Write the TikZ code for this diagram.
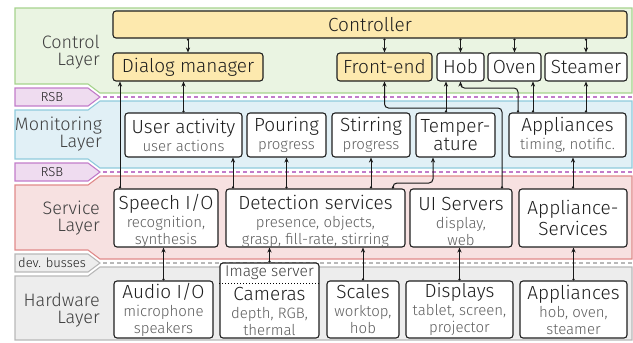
\documentclass[tikz,border=0pt]{standalone}
\usepackage{fontspec}
\IfFontExistsTF{Fira Sans Light}{\setmainfont{Fira Sans Light}}{\setmainfont{Fira Sans}}
\usetikzlibrary{arrows.meta}
\definecolor{gfill}{HTML}{EAF4E2}\definecolor{gline}{HTML}{A6D38D}
\definecolor{bfill}{HTML}{E1F0F6}\definecolor{bline}{HTML}{8FCBDC}
\definecolor{rfill}{HTML}{F7E1E1}\definecolor{rline}{HTML}{E08A8A}
\definecolor{hfill}{HTML}{EDEDED}\definecolor{hline}{HTML}{B8B8B8}
\definecolor{pfill}{HTML}{EFDCF0}\definecolor{pline}{HTML}{C27CCA}
\definecolor{ylw}{HTML}{FDE9AE}
\definecolor{txt}{HTML}{1E1E1E}\definecolor{subc}{HTML}{5E5E5E}
\newcommand\mainf{\fontsize{19}{17}\selectfont}
\newcommand\subf{\color{subc}\fontsize{15}{16}\selectfont}
\newcommand\layf{\fontsize{18}{17}\selectfont}
\newcommand\tagf{\fontsize{13}{14}\selectfont}
\begin{document}
\begin{tikzpicture}[x=1pt,y=-1pt,
  bandst/.style={line width=1.1pt},
  box/.style={draw=black!88, line width=1.1pt, rounded corners=3pt, fill=white, align=center, inner sep=0pt, font=\mainf, text=txt},
  ybox/.style={box, fill=ylw},
  boxtext/.style={inner sep=0pt, align=center, font=\mainf, text=txt},
  conn/.style={line width=1pt, draw=black!90, {Circle[open,fill=white,length=2.2pt,width=2.2pt]}-{Stealth[length=5pt,width=4.2pt]}, rounded corners=4pt},
  layl/.style={anchor=east, align=right, font=\layf, text=txt!85, inner sep=0pt},
  tagl/.style={font=\tagf, text=txt, inner sep=0pt},
  bus/.style={line width=1.1pt, dash pattern=on 4pt off 3pt}
]
\useasboundingbox (0,0) rectangle (633,343);
% bands
\filldraw[bandst, fill=gfill, draw=gline] (15,8) -- (632,8) -- (632,93) -- (100,93) -- (88,84) -- (15,84) -- cycle;
\filldraw[bandst, fill=bfill, draw=bline] (15,110) -- (88,110) -- (100,101) -- (632,101) -- (632,168) -- (100,168) -- (88,159) -- (15,159) -- cycle;
\filldraw[bandst, fill=rfill, draw=rline] (15,185) -- (88,185) -- (100,176) -- (632,176) -- (632,259) -- (100,259) -- (88,250) -- (15,250) -- cycle;
\filldraw[bandst, fill=hfill, draw=hline] (15,276) -- (88,276) -- (100,267) -- (632,267) -- (632,340) -- (15,340) -- cycle;
% tags
\filldraw[bandst, fill=pfill, draw=pline] (15,88) -- (88,88) -- (100,97) -- (88,106) -- (15,106) -- cycle;
\filldraw[bandst, fill=pfill, draw=pline] (15,163) -- (88,163) -- (100,172) -- (88,181) -- (15,181) -- cycle;
\filldraw[bandst, fill=hfill, draw=hline] (15,254) -- (88,254) -- (100,263) -- (88,272) -- (15,272) -- cycle;
\node[tagl] (t1) at (52,97) {RSB};
\node[tagl] (t2) at (52,172) {RSB};
\node[tagl] (t3) at (52,263) {dev. busses};
\draw[bus, draw=pline] (103,97) -- (632,97);
\draw[bus, draw=pline] (103,172) -- (632,172);
\draw[bus, draw=hline] (103,263) -- (632,263);
% layer labels
\node[layl] (l1) at (100,52) {Control\\Layer};
\node[layl] (l2) at (102,134) {Monitoring\\Layer};
\node[layl] (l3) at (100,218) {Service\\Layer};
\node[layl] (l4) at (100,310) {Hardware\\Layer};
% control layer
\node[ybox, minimum width=514pt, minimum height=27pt] (ctrl) at (370,24.5) {Controller};
\node[ybox, minimum width=150pt, minimum height=28pt] (dlg) at (188,67) {Dialog manager};
\node[ybox, minimum width=95pt, minimum height=28pt] (fe) at (384.5,67) {Front-end};
\node[box, minimum width=47pt, minimum height=28pt] (hob) at (460.5,67) {Hob};
\node[box, minimum width=53pt, minimum height=28pt] (oven) at (514.5,67) {Oven};
\node[box, minimum width=82pt, minimum height=28pt] (steam) at (586,67) {Steamer};
% monitoring layer
\node[box, minimum width=117pt, minimum height=44pt] (ua) at (183.5,135) {User activity\\[1pt]\subf user actions};
\node[box, minimum width=79pt, minimum height=44pt] (pour) at (286.5,135) {Pouring\\[1pt]\subf progress};
\node[box, minimum width=78pt, minimum height=44pt] (stir) at (371,135) {Stirring\\[1pt]\subf progress};
\node[box, minimum width=79pt, minimum height=44pt] (temp) at (455.5,135) {Temper-\\[1pt]ature};
\node[box, minimum width=117pt, minimum height=44pt] (appm) at (567.5,135) {Appliances\\[1pt]\subf timing, notific.};
% service layer
\node[box, minimum width=104pt, minimum height=58pt] (sp) at (166,218) {};
\node[boxtext] (spt) at (166,221) {Speech I/O\\[1pt]\subf recognition,\\\subf synthesis};
\node[box, minimum width=179pt, minimum height=58pt] (det) at (315.5,218) {};
\node[boxtext] (dett) at (315.5,221) {Detection services\\[1pt]\subf presence, objects,\\\subf grasp, fill-rate, stirring};
\node[box, minimum width=102pt, minimum height=58pt] (ui) at (461,218) {};
\node[boxtext] (uit) at (461,221) {UI Servers\\[1pt]\subf display,\\\subf web};
\node[box, minimum width=108pt, minimum height=58pt] (aps) at (573,218) {Appliance-\\[1pt]Services};
% hardware layer
\node[box, minimum width=99pt, minimum height=57pt] (aud) at (163.5,309.5) {Audio I/O\\[1pt]\subf microphone\\\subf speakers};
\node[box, minimum width=99pt, minimum height=75pt] (cam) at (269.5,300.5) {};
\coordinate (y283) at (0,283);
\draw[line width=1pt, dotted] (cam.west |- y283) -- (cam.east |- y283);
\node[inner sep=0pt, font=\fontsize{15.5}{16}\selectfont, text=txt!85] (imgs) at (269.5,273) {Image server};
\node[boxtext] (camt) at (269.5,311) {Cameras\\[1pt]\subf depth, RGB,\\\subf thermal};
\node[box, minimum width=72pt, minimum height=57pt] (sca) at (363,309.5) {Scales\\[1pt]\subf worktop,\\\subf hob};
\node[box, minimum width=107pt, minimum height=57pt] (dis) at (459.5,309.5) {Displays\\[1pt]\subf tablet, screen,\\\subf projector};
\node[box, minimum width=107pt, minimum height=57pt] (aph) at (573.5,309.5) {Appliances\\[1pt]\subf hob, oven,\\\subf steamer};
% helper coordinates
\coordinate (x120) at (120,0);
\coordinate (x233) at (233,0);
\coordinate (x393) at (393,0);
\coordinate (x433) at (433,0);
\coordinate (x446) at (446,0);
\coordinate (x502) at (502,0);
\coordinate (x518) at (518,0);
\coordinate (x533) at (533,0);
\coordinate (y108) at (0,108);
\coordinate (y88) at (0,88);
\coordinate (y183) at (0,183);
% connectors: controller
\draw[conn] (ctrl.south -| dlg.north) -- (dlg.north);
\draw[conn] (ctrl.south -| fe.north) -- (fe.north);
\draw[conn] (ctrl.south -| hob.north) -- (hob.north);
\draw[conn] (ctrl.south -| oven.north) -- (oven.north);
\draw[conn] (ctrl.south -| steam.north) -- (steam.north);
% to control layer
\draw[conn] (sp.north -| x120) -- (dlg.south -| x120);
\draw[conn] (ua.north) -- (ua.north |- dlg.south);
\draw[conn] (ui.north -| x502) |- (fe.south |- y108) -- (fe.south);
\draw[conn] (temp.north -| x446) -- (hob.south -| x446);
\draw[conn] (appm.north -| x518) |- (hob.south |- y88) -- (hob.south);
\draw[conn] (appm.north -| x533) -- (oven.south -| x533);
\draw[conn] (appm.north -| steam.south) -- (steam.south);
% to monitoring layer
\draw[conn] (det.north -| x233) -- (ua.south -| x233);
\draw[conn] (pour.south |- det.north) -- (pour.south);
\draw[conn] (stir.south |- det.north) -- (stir.south);
\draw[conn] (det.north -| x393) |- (x433 |- y183) -- (temp.south -| x433);
\draw[conn] (aps.north) -- (aps.north |- appm.south);
% to service layer
\draw[conn] (aud.north) -- (aud.north |- sp.south);
\draw[conn] (cam.north) -- (cam.north |- det.south);
\draw[conn] (sca.north) -- (sca.north |- det.south);
\draw[conn] (dis.north) -- (dis.north |- ui.south);
\draw[conn] (aph.north) -- (aph.north |- aps.south);
\end{tikzpicture}
\end{document}
